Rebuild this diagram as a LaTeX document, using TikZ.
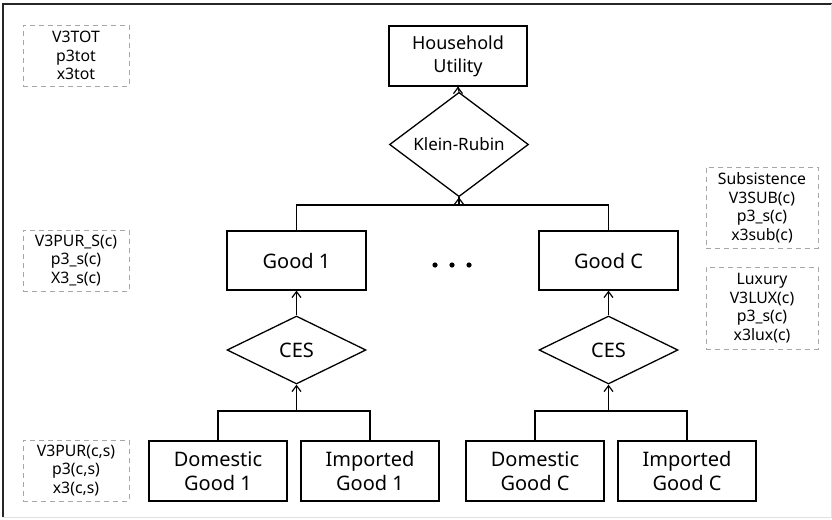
\documentclass[tikz,border=0pt]{standalone}
\usepackage{fontspec}
\setmainfont{Noto Sans}
\usetikzlibrary{shapes.geometric}
\begin{document}
\begin{tikzpicture}[x=1pt,y=-1pt,
  box/.style={draw=black,line width=1.3pt,inner sep=0pt,align=center,minimum width=138pt,minimum height=59pt},
  dia/.style={draw=black,line width=1.3pt,diamond,inner sep=0pt,align=center,minimum width=139pt,minimum height=68pt},
  info/.style={draw=black!35,dashed,dash pattern=on 5pt off 4pt,line width=0.9pt,inner sep=0pt,align=center,minimum width=106pt,minimum height=61pt,font=\fontsize{15.8}{18.5}\selectfont},
  conn/.style={line width=1.3pt},
  tip/.style={line width=1.2pt,line join=miter},
  big/.style={font=\fontsize{20}{24}\selectfont}]
\useasboundingbox (0,0) rectangle (832,519);
% frame
\draw[line width=2pt,black!85] (3,517) -- (3,4) -- (832,4);
\draw[line width=1pt,black!12] (3,517.5) -- (831.5,517.5) -- (831.5,4);
% top
\node[box,minimum height=60pt,font=\fontsize{18}{23}\selectfont] (hu) at (458,56) {Household\\Utility};
\node[dia,font=\fontsize{17}{20}\selectfont] (kr) at (459,144.5) {Klein-Rubin};
\coordinate (kb) at (459,205);
\coordinate (tl) at (296.5,205);
\coordinate (tr) at (608.5,205);
% goods
\node[box,big,minimum width=139pt] (g1) at (296.5,260.5) {Good 1};
\node[box,big,minimum width=139pt] (gc) at (608.5,260.5) {Good C};
\node[dia,big] (ces1) at (296.5,350) {CES};
\node[dia,big] (cesc) at (608.5,350) {CES};
% bottom
\node[box,big,minimum height=60pt] (d1) at (218,471) {Domestic\\Good 1};
\node[box,big,minimum height=60pt] (i1) at (370,471) {Imported\\Good 1};
\node[box,big,minimum height=60pt] (dc) at (535,471) {Domestic\\Good C};
\node[box,big,minimum height=60pt] (ic) at (687,471) {Imported\\Good C};
\coordinate (b1) at (296.5,411);
\coordinate (bc) at (608.5,411);
% connectors
\draw[conn] (kr.north) -- (hu.south);
\draw[conn] (kb) -- (kr.south);
\draw[conn] (g1.north) -- (tl) -- (tr) -- (gc.north);
\draw[conn] (ces1.north) -- (g1.south);
\draw[conn] (cesc.north) -- (gc.south);
\draw[conn] (b1) -- (ces1.south);
\draw[conn] (bc) -- (cesc.south);
\draw[conn] (d1.north) |- (b1) -| (i1.north);
\draw[conn] (dc.north) |- (bc) -| (ic.north);
% arrow tips
\foreach \t in {hu.south,kr.south,g1.south,gc.south,ces1.south,cesc.south}{
  \draw[tip] ([xshift=-4.5pt,yshift=-7pt]\t) -- ([yshift=-1pt]\t) -- ([xshift=4.5pt,yshift=-7pt]\t);
}
% dots
\fill (435,265) circle (2.6pt);
\fill (452,265) circle (2.6pt);
\fill (469,265) circle (2.6pt);
% info boxes
\node[info] (n1) at (76,55.5) {V3TOT\\p3tot\\x3tot};
\node[info] (n2) at (76,260.5) {V3PUR\_S(c)\\p3\_s(c)\\X3\_s(c)};
\node[info] (n3) at (76,470.5) {V3PUR(c,s)\\p3(c,s)\\x3(c,s)};
\node[info,minimum width=112pt,minimum height=81pt] (n4) at (762,207.5) {Subsistence\\V3SUB(c)\\p3\_s(c)\\x3sub(c)};
\node[info,minimum width=112pt,minimum height=82pt] (n5) at (762,308) {Luxury\\V3LUX(c)\\p3\_s(c)\\x3lux(c)};
\end{tikzpicture}
\end{document}
